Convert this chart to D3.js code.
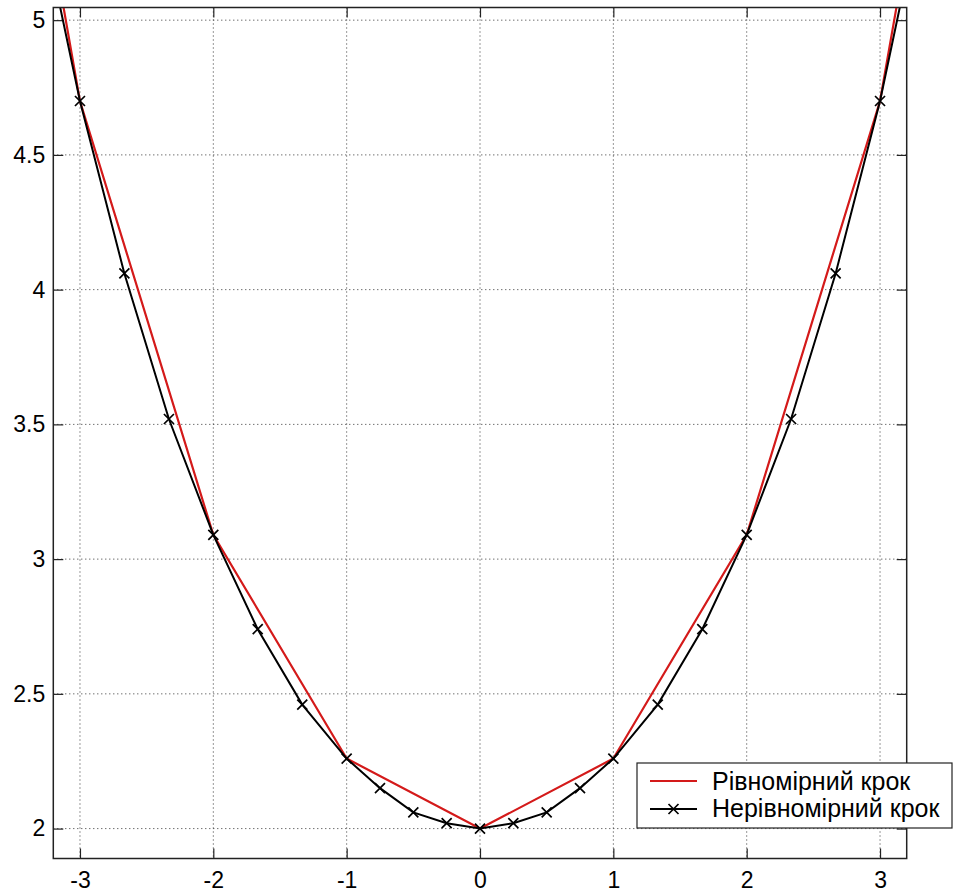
<!DOCTYPE html>
<html>
<head>
<meta charset="utf-8">
<script src="https://cdn.jsdelivr.net/npm/d3@7"></script>
<style>
  body { margin: 0; background: #fff; }
  svg { display: block; }
  text { font-family: "Liberation Sans", Arial, sans-serif; fill: #000; }
</style>
</head>
<body>
<div id="chart"></div>
<script>
// Uniform step (red)
const uniformX = [-4, -3, -2, -1, 0, 1, 2, 3, 4];
const uniformY = [7.52, 4.70, 3.09, 2.26, 2.00, 2.26, 3.09, 4.70, 7.52];

// Non-uniform step (black, x markers)
const nonUniformX = [-3.333, -3, -2.667, -2.333, -2, -1.667, -1.333, -1, -0.75, -0.5, -0.25,
  0, 0.25, 0.5, 0.75, 1, 1.333, 1.667, 2, 2.333, 2.667, 3, 3.333];
const nonUniformY = [5.48, 4.70, 4.06, 3.52, 3.09, 2.74, 2.46, 2.26, 2.15, 2.06, 2.02,
  2.00, 2.02, 2.06, 2.15, 2.26, 2.46, 2.74, 3.09, 3.52, 4.06, 4.70, 5.48];

const xTicks = [-3, -2, -1, 0, 1, 2, 3];
const yTicks = [2, 2.5, 3, 3.5, 4, 4.5, 5];
const legendLabels = ["Рівномірний крок", "Нерівномірний крок"];

const W = 954, H = 894;
const box = { left: 53.3, right: 906.7, top: 7.5, bottom: 858.5 };

const svg = d3.select("#chart").append("svg").attr("width", W).attr("height", H);

const x = d3.scaleLinear().domain([-3.2, 3.2]).range([box.left, box.right]);
const y = d3.scaleLinear().domain([1.889, 5.047]).range([box.bottom, box.top]);

// clip
svg.append("clipPath").attr("id", "clip")
  .append("rect").attr("x", box.left).attr("y", box.top)
  .attr("width", box.right - box.left).attr("height", box.bottom - box.top);

// grid
const grid = svg.append("g").attr("stroke", "#333").attr("stroke-width", 1)
  .attr("stroke-dasharray", "1,3");
xTicks.forEach(t => {
  grid.append("line").attr("x1", x(t)).attr("x2", x(t)).attr("y1", box.top).attr("y2", box.bottom);
});
yTicks.forEach(t => {
  grid.append("line").attr("x1", box.left).attr("x2", box.right).attr("y1", y(t)).attr("y2", y(t));
});

// axes with inward ticks on all sides
const axisStyle = g => {
  g.selectAll(".domain").remove();
  g.selectAll("line").attr("stroke", "#222").attr("stroke-width", 1.2);
  g.selectAll("text").style("font-size", "23px").style("font-family", "'Liberation Sans', Arial, sans-serif");
};
svg.append("g").attr("transform", `translate(0,${box.bottom})`)
  .call(d3.axisBottom(x).tickValues(xTicks).tickFormat(d => String(d)).tickSizeInner(-10).tickPadding(13))
  .call(axisStyle);
svg.append("g").attr("transform", `translate(0,${box.top})`)
  .call(d3.axisTop(x).tickValues(xTicks).tickFormat("").tickSizeInner(-10))
  .call(axisStyle);
svg.append("g").attr("transform", `translate(${box.left},0)`)
  .call(d3.axisLeft(y).tickValues(yTicks).tickFormat(d => String(d)).tickSizeInner(-10).tickPadding(8))
  .call(axisStyle);
svg.append("g").attr("transform", `translate(${box.right},0)`)
  .call(d3.axisRight(y).tickValues(yTicks).tickFormat("").tickSizeInner(-10))
  .call(axisStyle);

// lines
const line = d3.line().x(d => x(d[0])).y(d => y(d[1]));
const plot = svg.append("g").attr("clip-path", "url(#clip)");

const redColor = "#d41a1a";
plot.append("path").datum(uniformX.map((v, i) => [v, uniformY[i]]))
  .attr("fill", "none").attr("stroke", redColor).attr("stroke-width", 2.2).attr("d", line);

const blackData = nonUniformX.map((v, i) => [v, nonUniformY[i]]);
plot.append("path").datum(blackData)
  .attr("fill", "none").attr("stroke", "#000").attr("stroke-width", 2).attr("d", line);

const cross = (g, cx, cy, s) => {
  g.append("path")
    .attr("d", `M${cx - s},${cy - s}L${cx + s},${cy + s}M${cx - s},${cy + s}L${cx + s},${cy - s}`)
    .attr("stroke", "#000").attr("stroke-width", 1.7).attr("fill", "none");
};
blackData.forEach(d => cross(plot, x(d[0]), y(d[1]), 5));

// frame
svg.append("rect").attr("x", box.left).attr("y", box.top)
  .attr("width", box.right - box.left).attr("height", box.bottom - box.top)
  .attr("fill", "none").attr("stroke", "#222").attr("stroke-width", 1.5);

// legend
const lg = svg.append("g");
lg.append("rect").attr("x", 637).attr("y", 763).attr("width", 315).attr("height", 65)
  .attr("fill", "#fff").attr("stroke", "#222").attr("stroke-width", 1.2);
lg.append("line").attr("x1", 650).attr("x2", 697).attr("y1", 781).attr("y2", 781)
  .attr("stroke", redColor).attr("stroke-width", 2.2);
lg.append("line").attr("x1", 650).attr("x2", 697).attr("y1", 809).attr("y2", 809)
  .attr("stroke", "#000").attr("stroke-width", 2);
cross(lg, 673.5, 809, 5);
lg.append("text").attr("x", 712).attr("y", 790).style("font-size", "25px").text(legendLabels[0]);
lg.append("text").attr("x", 712).attr("y", 817).style("font-size", "25px").text(legendLabels[1]);
</script>
</body>
</html>
